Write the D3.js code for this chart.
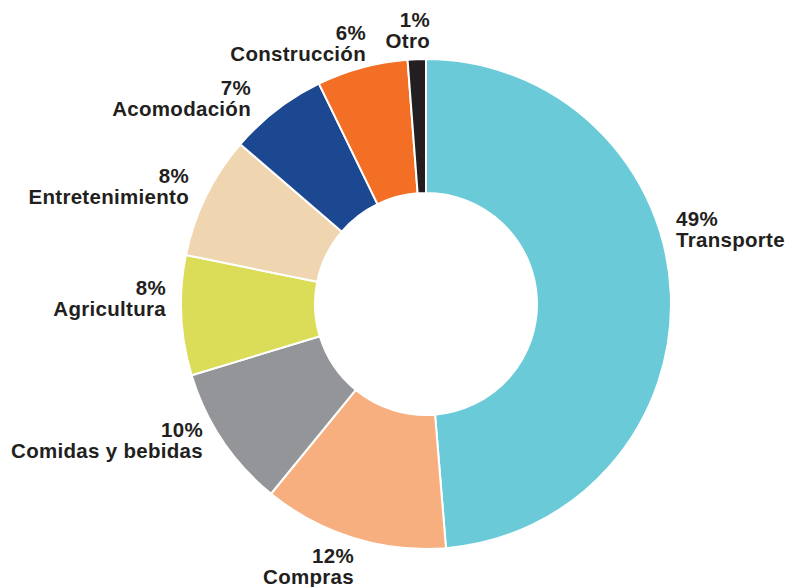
<!DOCTYPE html>
<html>
<head>
<meta charset="utf-8">
<script src="https://cdn.jsdelivr.net/npm/d3@7/dist/d3.min.js"></script>
<style>
  html, body { margin: 0; padding: 0; background: #fff; }
  svg { display: block; }
  text { font-family: "Liberation Sans", Arial, Helvetica, sans-serif; font-weight: bold; fill: #231F20; letter-spacing: 0.3px; }
</style>
</head>
<body>
<svg id="chart" width="788" height="587"></svg>
<script>
// Data
const categories = ["Transporte", "Compras", "Comidas y bebidas", "Agricultura", "Entretenimiento", "Acomodación", "Construcción", "Otro"];
const values = [48.7, 12.2, 9.4, 7.9, 8.1, 6.5, 6.0, 1.2];
const percentLabels = ["49%", "12%", "10%", "8%", "8%", "7%", "6%", "1%"];
const colors = ["#6BCAD8", "#F7AF80", "#939598", "#DBDC58", "#EFD6B0", "#1B4890", "#F36F25", "#231F20"];

// Layout (label anchors: x, y of first line baseline, anchor)
const labelLayout = [
  [676, 226, "start"],
  [354, 563, "end"],
  [203, 437, "end"],
  [166, 295, "end"],
  [189, 183, "end"],
  [251, 95, "end"],
  [366, 40, "end"],
  [430, 27, "end"]
];

const cx = 426, cy = 304, outerR = 245, innerR = 111;
const svg = d3.select("#chart");
const g = svg.append("g").attr("transform", `translate(${cx},${cy})`);

const pie = d3.pie().sort(null).value(d => d.value);
const arc = d3.arc().innerRadius(innerR).outerRadius(outerR);
const data = categories.map((c, i) => ({ name: c, value: values[i], pct: percentLabels[i], color: colors[i] }));
const color = d3.scaleOrdinal().domain(categories).range(colors);

g.selectAll("path")
  .data(pie(data))
  .join("path")
  .attr("d", arc)
  .attr("fill", d => color(d.data.name))
  .attr("stroke", "#fff")
  .attr("stroke-width", 2)
  .attr("stroke-linejoin", "round");

const labels = svg.selectAll("g.lbl")
  .data(data)
  .join("g")
  .attr("class", "lbl");

labels.append("text")
  .attr("x", (d, i) => labelLayout[i][0])
  .attr("y", (d, i) => labelLayout[i][1])
  .attr("text-anchor", (d, i) => labelLayout[i][2])
  .attr("font-size", 20.5)
  .text(d => d.pct);

labels.append("text")
  .attr("x", (d, i) => labelLayout[i][0])
  .attr("y", (d, i) => labelLayout[i][1] + 21)
  .attr("text-anchor", (d, i) => labelLayout[i][2])
  .attr("font-size", 20.5)
  .text(d => d.name);
</script>
</body>
</html>
